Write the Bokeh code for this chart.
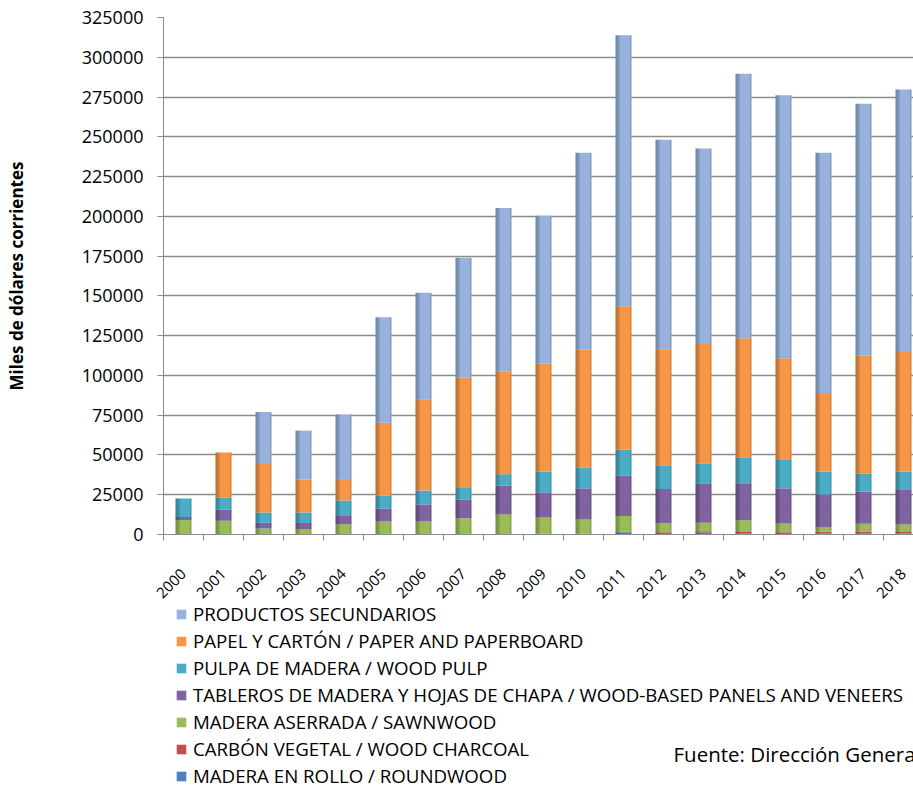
from bokeh.plotting import figure
from bokeh.layouts import column
from bokeh.models import (Range1d, FixedTicker, Legend, LegendItem, Label,
                          ColumnDataSource, BasicTickFormatter)
from bokeh.transform import dodge
from bokeh.embed import file_html
from bokeh.resources import INLINE

years = [str(y) for y in range(2000, 2019)]
roundwood = [100, 100, 100, 100, 100, 100, 100, 100, 100, 200, 200, 1400, 1000, 1200, 800, 1000, 600, 800, 600]
charcoal = [100, 100, 100, 100, 100, 100, 100, 100, 100, 300, 300, 500, 400, 800, 800, 400, 1200, 1000, 1000]
sawnwood = [8900, 8500, 3600, 3000, 6200, 7900, 7900, 10000, 12300, 10500, 9000, 9700, 5600, 5400, 7300, 5450, 2950, 4900, 4700]
panels = [1900, 6800, 3600, 4000, 5700, 8200, 10800, 11800, 18200, 15500, 19500, 25300, 21600, 24400, 23300, 22150, 20450, 20200, 21700]
pulp = [11700, 7600, 6400, 6600, 9300, 8100, 8700, 7300, 7200, 13100, 13000, 16300, 14900, 12900, 16100, 17900, 14200, 11300, 11400]
paper = [0, 28400, 31100, 20800, 13400, 45800, 57400, 69450, 64800, 67700, 74250, 90300, 73000, 75100, 75000, 63900, 48900, 74100, 75400]
secondary = [0, 0, 32100, 30700, 40700, 66300, 66900, 75250, 102600, 93100, 123750, 170400, 131600, 122900, 166400, 165300, 151700, 158500, 165000]

series_keys = ["roundwood", "charcoal", "sawnwood", "panels", "pulp", "paper", "secondary"]
series_labels = [
    "MADERA EN ROLLO / ROUNDWOOD",
    "CARBÓN VEGETAL / WOOD CHARCOAL",
    "MADERA ASERRADA / SAWNWOOD",
    "TABLEROS DE MADERA Y HOJAS DE CHAPA / WOOD-BASED PANELS AND VENEERS",
    "PULPA DE MADERA / WOOD PULP",
    "PAPEL Y CARTÓN / PAPER AND PAPERBOARD",
    "PRODUCTOS SECUNDARIOS",
]
colors = ["#4F81BD", "#C0504D", "#9BBB59", "#8064A2", "#4BACC6", "#F79646", "#97B2DD"]
y_ticks = list(range(0, 325001, 25000))
source_text = "Fuente: Dirección General Forestal"

source = ColumnDataSource(dict(
    x=list(range(len(years))),
    roundwood=roundwood, charcoal=charcoal, sawnwood=sawnwood, panels=panels,
    pulp=pulp, paper=paper, secondary=secondary,
))

FONT = "Open Sans"
GRID = "#8C8C8C"

p = figure(width=913, height=624, output_backend="svg",
           toolbar_location=None, min_border_left=163, min_border_right=0,
           min_border_top=17, min_border_bottom=90,
           x_range=Range1d(-0.5, 18.25), y_range=Range1d(0, 325000))
p.outline_line_color = None
p.background_fill_color = "white"

renderers = p.vbar_stack(series_keys, x="x", width=0.4, source=source,
                         color=colors, line_color=None)
# cylinder-like shading at bar edges
p.vbar_stack(series_keys, x=dodge("x", -0.16, range=p.x_range), width=0.08,
             source=source, color="black", fill_alpha=0.22, line_color=None)
p.vbar_stack(series_keys, x=dodge("x", -0.1, range=p.x_range), width=0.04,
             source=source, color="black", fill_alpha=0.08, line_color=None)
p.vbar_stack(series_keys, x=dodge("x", 0.18, range=p.x_range), width=0.04,
             source=source, color="black", fill_alpha=0.12, line_color=None)

# x axis
p.xaxis.ticker = FixedTicker(ticks=list(range(len(years))),
                             minor_ticks=[i - 0.5 for i in range(len(years) + 1)])
p.xaxis.major_label_overrides = {i: y for i, y in enumerate(years)}
p.xaxis.major_label_orientation = 0.785398
p.xaxis.major_tick_out = 0
p.xaxis.major_tick_in = 0
p.xaxis.minor_tick_out = 6
p.xaxis.minor_tick_in = 0
p.xaxis.minor_tick_line_color = GRID
p.xaxis.axis_line_color = GRID
p.xaxis.major_label_text_font = FONT
p.xaxis.major_label_text_font_size = "15px"
p.xaxis.major_label_text_color = "black"
p.xaxis.major_label_standoff = 31

# y axis
p.yaxis.ticker = FixedTicker(ticks=y_ticks)
p.yaxis.formatter = BasicTickFormatter(use_scientific=False)
p.yaxis.minor_tick_line_color = None
p.yaxis.major_tick_out = 6
p.yaxis.major_tick_in = 0
p.yaxis.major_tick_line_color = GRID
p.yaxis.axis_line_color = GRID
p.yaxis.major_label_text_font = FONT
p.yaxis.major_label_text_font_size = "18px"
p.yaxis.major_label_text_color = "black"
p.yaxis.major_label_standoff = 14
p.yaxis.axis_label = "Miles de dólares corrientes"
p.yaxis.axis_label_text_font = FONT
p.yaxis.axis_label_text_font_style = "bold"
p.yaxis.axis_label_text_font_size = "17px"
p.yaxis.axis_label_text_color = "black"
p.yaxis.axis_label_standoff = 51

p.xgrid.grid_line_color = None
p.ygrid.ticker = FixedTicker(ticks=y_ticks)
p.ygrid.grid_line_color = GRID
p.ygrid.grid_line_width = 1.5

# legend + source note in a second panel below (overlapping p's empty bottom strip)
q = figure(width=913, height=189, output_backend="svg",
           toolbar_location=None, min_border_left=163, min_border_right=0,
           min_border_top=0, min_border_bottom=0,
           x_range=Range1d(0, 1), y_range=Range1d(0, 1))
q.margin = (-23, 0, 0, 0)
q.axis.visible = False
q.grid.grid_line_color = None
q.outline_line_color = None
q.background_fill_alpha = 0
q.border_fill_alpha = 0

legend_renderers = [q.vbar(x=[0.5], top=[0], bottom=[0], width=0.0, color=c,
                           line_color=None)
                    for c in colors]
items = [LegendItem(label=series_labels[i], renderers=[legend_renderers[i]])
         for i in reversed(range(len(series_keys)))]
legend = Legend(items=items, location=(12, 2), orientation="vertical",
                glyph_width=12, glyph_height=12, label_standoff=6,
                spacing=2, label_height=25, padding=0, margin=0,
                label_text_font=FONT, label_text_font_size="18.7px",
                label_text_color="black", border_line_color=None,
                background_fill_alpha=0)
q.add_layout(legend)

src_label = Label(x=510, y=37, x_units="screen", y_units="screen",
                  text=source_text,
                  text_font=FONT, text_font_size="20.5px",
                  text_color="black", text_baseline="alphabetic")
q.add_layout(src_label)

layout = column(p, q, spacing=0)
open("out.html", "w").write(file_html(layout, INLINE))
